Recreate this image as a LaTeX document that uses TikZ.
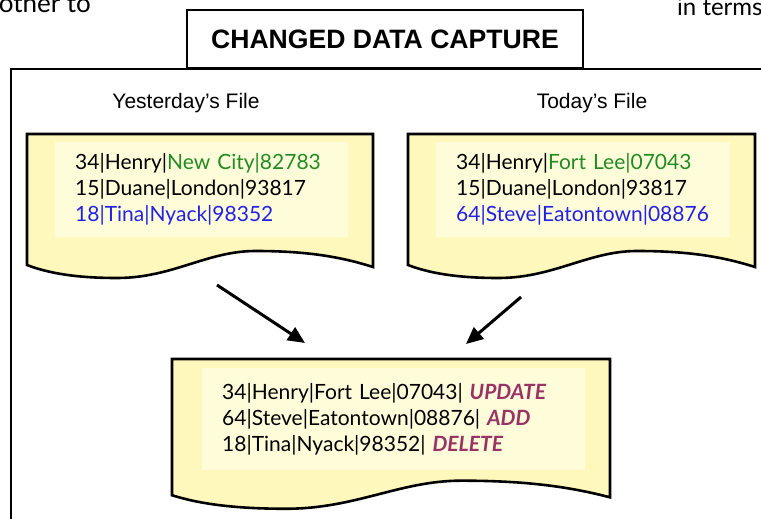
\documentclass[tikz,border=0pt]{standalone}
\usepackage{fontspec}
\setmainfont{Lato}
\newfontfamily\arialfont{Liberation Sans}
\usetikzlibrary{arrows.meta}

\definecolor{paper}{HTML}{FFF8BC}
\definecolor{paperin}{HTML}{FFFCDA}
\definecolor{chg}{HTML}{228B22}
\definecolor{newrec}{HTML}{2222E6}
\definecolor{op}{HTML}{993366}

% feuille de fichier (bord bas ondule)
\newcommand{\filesheet}[4]{%
  \begin{scope}[shift={(#1,#2)}, xscale=#3, yscale=#4]
    \draw[sheet] (0,0) -- (100,0) -- (100,133)
      .. controls (90,122) and (80,117) .. (66,117)
      .. controls (52,117) and (42,144) .. (26,144)
      .. controls (14,144) and (6,139) .. (0,131) -- cycle;
  \end{scope}}

\begin{document}
\begin{tikzpicture}[
x=1pt, y=-1pt,
sheet/.style={draw=black, line width=2.6pt, fill=paper},
records/.style={fill=paperin, anchor=north west, inner xsep=20pt, align=left,
  font=\fontsize{21}{26}\selectfont},
flow/.style={line width=3pt, -{Triangle[length=17pt, width=15pt]}},
label/.style={font=\arialfont\fontsize{21}{25}\selectfont},
]
    \useasboundingbox (0,0) rectangle (761,519);
    \clip (0,0) rectangle (761,519);

    % Texte environnant
    \node[anchor=base west, inner sep=0pt, font=\fontsize{26}{30}\selectfont] (prevtext) at (-16,13) {bother to};
    \node[anchor=base west, inner sep=0pt, font=\fontsize{24}{28}\selectfont] (nexttext) at (677,16) {in terms};

    % Cadre et titre
    \draw[line width=2pt] (11,560) -- (11,69) -- (800,69);
    \node[draw, line width=1.5pt, fill=white, minimum width=396pt, minimum height=58pt,
      font=\arialfont\bfseries\fontsize{26.6}{30}\selectfont] (titre) at (385,39) {CHANGED DATA CAPTURE};

    \node[label] (yestlabel) at (186,103) {Yesterday’s File};
    \node[label] (todaylabel) at (592,103) {Today’s File};

    % Fichiers
    \filesheet{27}{134}{3.46}{1}
    \filesheet{408}{134}{3.47}{1}
    \filesheet{172}{359}{4.38}{1.04}

    \node[records, text width=253pt, minimum height=95pt] (yestrec) at (55,142)
      {34|Henry|\textcolor{chg}{New City|82783}\\
       15|Duane|London|93817\\
       \textcolor{newrec}{18|Tina|Nyack|98352}};
    \node[records, text width=254pt, minimum height=95pt] (todayrec) at (436,142)
      {34|Henry|\textcolor{chg}{Fort Lee|07043}\\
       15|Duane|London|93817\\
       \textcolor{newrec}{64|Steve|Eatontown|08876}};
    \node[records, text width=343pt, minimum height=102pt] (cdcrec) at (202,368)
      {34|Henry|Fort Lee|07043| \textcolor{op}{\bfseries\itshape UPDATE}\\
       64|Steve|Eatontown|08876| \textcolor{op}{\bfseries\itshape ADD}\\
       18|Tina|Nyack|98352| \textcolor{op}{\bfseries\itshape DELETE}};

    % Liens
    \coordinate (yestout) at (217,285);
    \coordinate (cdcleft) at (305,343);
    \coordinate (todayout) at (521,297);
    \coordinate (cdcright) at (466,344);
    \draw[flow] (yestout) -- (cdcleft);
    \draw[flow] (todayout) -- (cdcright);
\end{tikzpicture}
\end{document}
